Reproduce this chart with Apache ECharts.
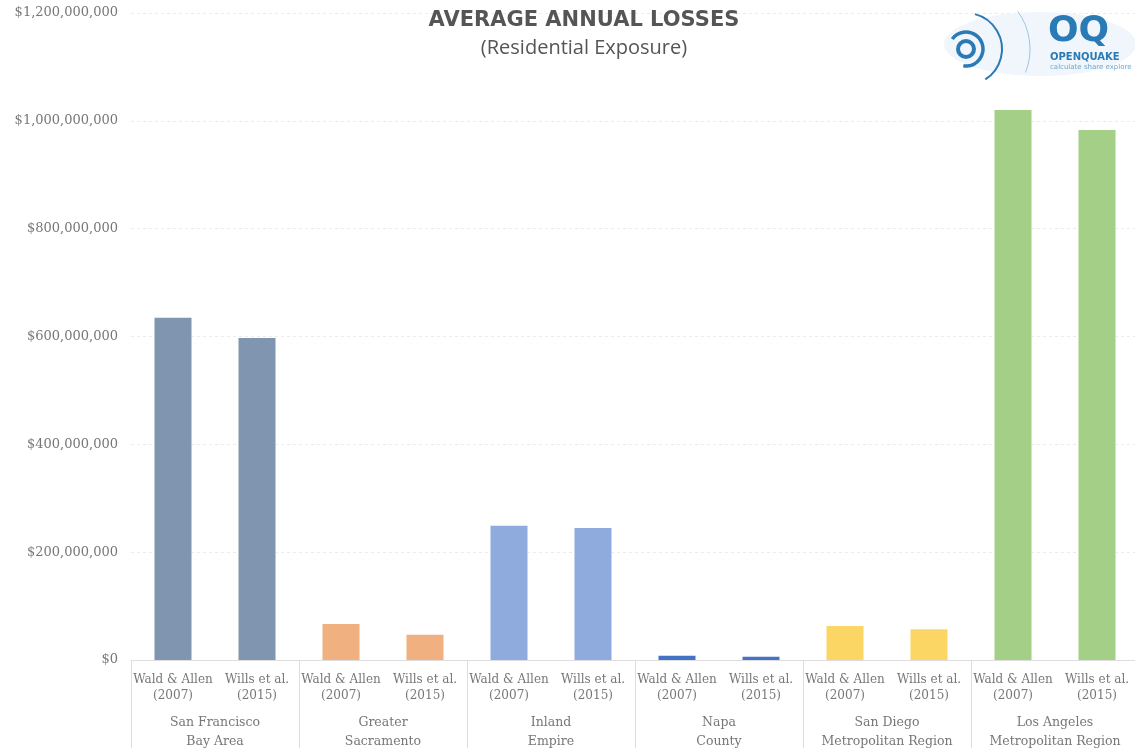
<!DOCTYPE html>
<html><head><meta charset="utf-8">
<script src="https://cdn.jsdelivr.net/npm/echarts@6/dist/echarts.min.js"></script>
<style>html,body{margin:0;padding:0;background:#fff}#c{width:1135px;height:748px}</style>
</head><body><div id="c"></div>
<script>
const regions = ['San Francisco\nBay Area','Greater\nSacramento','Inland\nEmpire','Napa\nCounty','San Diego\nMetropolitan Region','Los Angeles\nMetropolitan Region'];
const studies = ['Wald & Allen\n(2007)','Wills et al.\n(2015)'];
const waldAllen = [635e6, 67e6, 249e6, 8e6, 63e6, 1020e6];
const willsEtAl = [597e6, 47e6, 245e6, 6e6, 57e6, 983e6];
const regionColors = ['#8095b0','#f0b07f','#8faadc','#4472c4','#fcd664','#a4cf87'];
const yTicks = [0, 200e6, 400e6, 600e6, 800e6, 1000e6, 1200e6];

const cats = [], vals = [];
regions.forEach((r, i) => {
  cats.push(studies[0]); vals.push({value: waldAllen[i], itemStyle: {color: regionColors[i]}});
  cats.push(studies[1]); vals.push({value: willsEtAl[i], itemStyle: {color: regionColors[i]}});
});
const serif = 'DejaVu Serif';
const fmt = v => '$' + Math.round(v).toLocaleString('en-US');

const chart = echarts.init(document.getElementById('c'));
chart.setOption({
  animation: false,
  title: {
    text: 'AVERAGE ANNUAL LOSSES', subtext: '(Residential Exposure)',
    left: 579, textAlign: 'center', top: 5, itemGap: 7,
    textStyle: {fontFamily: 'DejaVu Sans', fontWeight: 'bold', fontSize: 21, color: '#555'},
    subtextStyle: {fontFamily: 'Open Sans', fontSize: 20, color: '#555'}
  },
  grid: {left: 131, right: -4, top: 13, bottom: 88, containLabel: false, outerBoundsMode: 'none'},
  xAxis: [{
    type: 'category', data: cats, position: 'bottom',
    axisLine: {lineStyle: {color: '#ddd'}}, axisTick: {show: false},
    axisLabel: {fontFamily: serif, fontSize: 12, color: '#777', lineHeight: 16, margin: 12, interval: 0}
  }, {
    type: 'category', data: regions, position: 'bottom',
    axisLine: {show: false},
    axisTick: {show: true, length: 90, lineStyle: {color: '#ddd'}},
    axisLabel: {fontFamily: serif, fontSize: 12.5, color: '#777', lineHeight: 19, margin: 53, interval: 0}
  }],
  yAxis: {
    type: 'value', min: yTicks[0], max: yTicks[yTicks.length-1], interval: yTicks[1]-yTicks[0],
    axisLine: {show: false}, axisTick: {show: false},
    splitLine: {lineStyle: {color: '#ebebeb', type: [3, 3]}},
    axisLabel: {fontFamily: serif, fontSize: 13, color: '#777', margin: 13, formatter: fmt}
  },
  series: [{type: 'bar', xAxisIndex: 0, data: vals, barWidth: 37}],
  graphic: [
    {type: 'ellipse', shape: {cx: 1040, cy: 44, rx: 96, ry: 32}, style: {fill: '#f0f6fb'}, z: 10},
    {type: 'circle', shape: {cx: 966, cy: 49, r: 8}, style: {fill: 'none', stroke: '#2a7ab5', lineWidth: 4}, z: 11},
    {type: 'arc', shape: {cx: 966, cy: 49, r: 17, startAngle: -Math.PI*0.8, endAngle: Math.PI*0.55}, style: {fill: 'none', stroke: '#2a7ab5', lineWidth: 3.5}, z: 11},
    {type: 'arc', shape: {cx: 966, cy: 49, r: 36, startAngle: -Math.PI*0.42, endAngle: Math.PI*0.32}, style: {fill: 'none', stroke: '#2a7ab5', lineWidth: 2}, z: 11},
    {type: 'arc', shape: {cx: 966, cy: 49, r: 64, startAngle: -Math.PI*0.2, endAngle: Math.PI*0.12}, style: {fill: 'none', stroke: '#9ec5e2', lineWidth: 1}, z: 11},
    {type: 'text', x: 1048, y: 14, style: {text: 'OQ', font: 'bold 36px "DejaVu Sans"', fill: '#2a7ab5'}, z: 11},
    {type: 'text', x: 1050, y: 52, style: {text: 'OPENQUAKE', font: 'bold 10px "DejaVu Sans"', fill: '#2a7ab5'}, z: 11},
    {type: 'text', x: 1050, y: 64, style: {text: 'calculate share explore', font: '7px "DejaVu Sans"', fill: '#6fa6d0'}, z: 11}
  ]
});
</script></body></html>
